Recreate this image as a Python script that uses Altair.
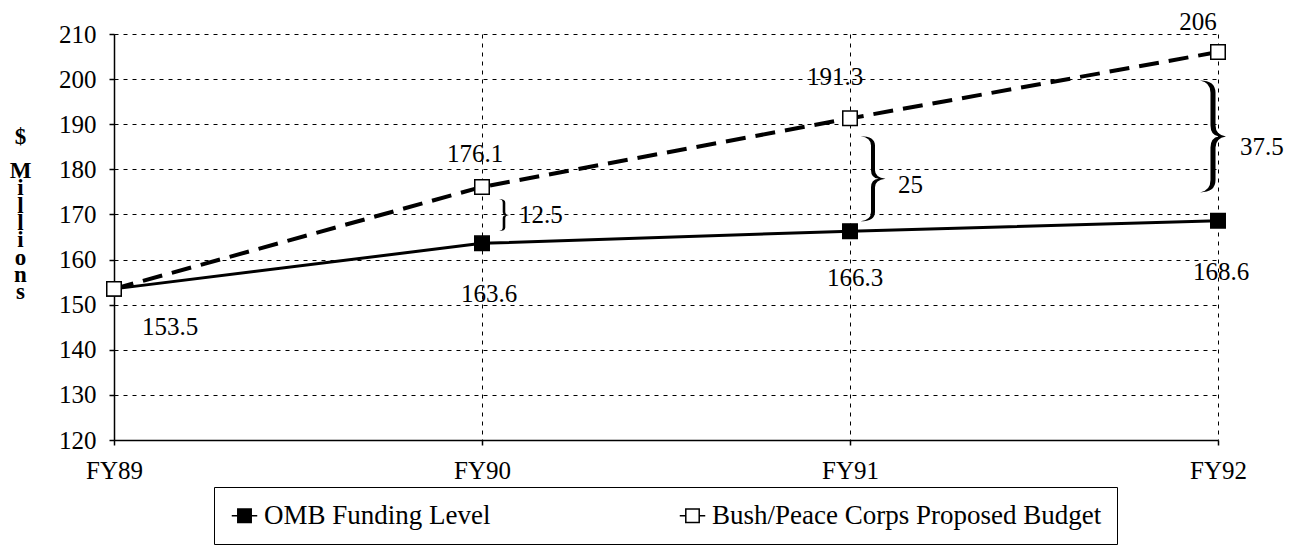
import altair as alt
import pandas as pd

# ---------------- data ----------------
YEARS = ["FY89", "FY90", "FY91", "FY92"]
OMB = [153.5, 163.6, 166.3, 168.6]
BUSH = [153.5, 176.1, 191.3, 206.0]
SERIES = ["OMB Funding Level", "Bush/Peace Corps Proposed Budget"]
Y_TICKS = [120, 130, 140, 150, 160, 170, 180, 190, 200, 210]
GAP_YEARS = ["FY90", "FY91", "FY92"]
GAP_LABELS = ["12.5", "25", "37.5"]
Y_TITLE = ["$", "\u200b", "M", "i", "l", "l", "i", "o", "n", "s"]

# ---------------- styling / layout (not data) ----------------
FONT = "Liberation Serif"
FS = 25
OMB_LABEL_OFFSETS = [(56, 38), (7, 51), (5, 47), (3, 51)]
BUSH_LABEL_OFFSETS = [None, (-7, -33), (-15, -41), (-20, -30)]
# brace: x offset, y offset, height px, width px, stroke px, label dx, label dy
BRACE_STYLE = [
    (22, 0, 32, 10, 2.6, 37, 0),
    (23, 4, 85, 25, 4.0, 48, 10),
    (-5, 0, 112, 26, 5.0, 22, 11),
]
LINE_STYLE = [dict(strokeWidth=3), dict(strokeWidth=4, strokeDash=[20, 10])]
LEGEND_SYMBOL = "M-1,-1H1V1H-1Z M-1.9,0H-1 M1,0H1.9"


def brace_path(h, w, thick):
    """Right-pointing curly brace as a unit-square SVG path."""
    hw = round(w / h, 3)          # half width in unit coords (unit = h/2)
    t = round(thick / h, 3)       # half thickness in unit coords
    m = round(hw * 0.45, 3)
    return (
        f"M{-hw},-1 Q{t},-1 {t},-0.78 L{t},-0.2 Q{t},-0.03 {hw},0 "
        f"Q{t},0.03 {t},0.2 L{t},0.78 Q{t},1 {-hw},1 "
        f"Q{-t},0.97 {-t},0.78 L{-t},0.2 Q{-t},0.02 {m},0 "
        f"Q{-t},-0.02 {-t},-0.2 L{-t},-0.78 Q{-t},-0.97 {-hw},-1 Z"
    )


df = pd.DataFrame({
    "year": YEARS + YEARS,
    "value": OMB + BUSH,
    "series": [SERIES[0]] * len(YEARS) + [SERIES[1]] * len(YEARS),
})

x_enc = alt.X(
    "year:N",
    sort=YEARS,
    scale=alt.Scale(type="point", domain=YEARS, padding=0),
    axis=alt.Axis(
        title=None, labelAngle=0, labelFont=FONT, labelFontSize=FS,
        labelColor="black", labelPadding=13, tickSize=5, tickColor="black",
        tickWidth=1.5, domainColor="black", domainWidth=1.5,
        grid=True, gridColor="black", gridDash=[4, 5], gridWidth=1,
    ),
)
y_enc = alt.Y(
    "value:Q",
    scale=alt.Scale(domain=[120, 210], nice=False, zero=False),
    axis=alt.Axis(
        values=Y_TICKS,
        title=Y_TITLE,
        titleAngle=0, titleFont=FONT, titleFontSize=23, titleFontWeight="bold",
        titleColor="black", titleLineHeight=17.3, titleAlign="center",
        titleBaseline="middle", titleX=-94, titleY=102,
        labelFont=FONT, labelFontSize=FS, labelColor="black", labelPadding=13,
        tickSize=5, tickColor="black", tickWidth=1.5,
        domainColor="black", domainWidth=1.5,
        grid=True, gridColor="black", gridDash=[4, 5], gridWidth=1,
    ),
)

base = alt.Chart(df)

layers = []
for s, style in zip(SERIES, LINE_STYLE):
    enc_x = x_enc if not layers else alt.X("year:N", sort=YEARS)
    enc_y = y_enc if not layers else alt.Y("value:Q")
    layers.append(
        base.transform_filter(alt.datum.series == s)
        .mark_line(color="black", **style)
        .encode(x=enc_x, y=enc_y)
    )

points = base.mark_point(
    shape="square", filled=True, size=210, stroke="black", strokeWidth=1.5,
    opacity=1,
).encode(
    x=alt.X("year:N", sort=YEARS),
    y="value:Q",
    color=alt.Color(
        "series:N",
        scale=alt.Scale(domain=SERIES, range=["black", "white"]),
        legend=alt.Legend(
            title=None, orient="none", legendX=100, legendY=453,
            direction="horizontal", padding=15, strokeColor="black",
            symbolType=LEGEND_SYMBOL, symbolSize=180,
            symbolStrokeColor="black", symbolStrokeWidth=1.5,
            symbolOffset=2, labelOffset=6, columnPadding=185,
            labelFont=FONT, labelFontSize=27, labelColor="black",
            labelLimit=600,
        ),
    ),
)
layers.append(points)

# value labels
for i, yr in enumerate(YEARS):
    for vals, offs in ((OMB, OMB_LABEL_OFFSETS), (BUSH, BUSH_LABEL_OFFSETS)):
        if offs[i] is None:
            continue
        dx, dy = offs[i]
        d = pd.DataFrame({"year": [yr], "value": [vals[i]],
                          "label": [f"{vals[i]:g}"]})
        layers.append(
            alt.Chart(d).mark_text(
                font=FONT, fontSize=FS, color="black", dx=dx, dy=dy,
                baseline="middle", align="center",
            ).encode(x=alt.X("year:N", sort=YEARS), y="value:Q", text="label:N")
        )

# braces showing the gap between the two series
for j, yr in enumerate(GAP_YEARS):
    k = YEARS.index(yr)
    mid = (OMB[k] + BUSH[k]) / 2
    bx, by, bh, bw, bt, tdx, tdy = BRACE_STYLE[j]
    d = pd.DataFrame({"year": [yr], "value": [mid], "label": [GAP_LABELS[j]]})
    layers.append(
        alt.Chart(d).mark_point(
            shape=brace_path(bh, bw, bt), filled=True, color="black",
            opacity=1, size=bh * bh, xOffset=bx, yOffset=by, strokeWidth=0,
        ).encode(x=alt.X("year:N", sort=YEARS), y="value:Q")
    )
    layers.append(
        alt.Chart(d).mark_text(
            font=FONT, fontSize=FS, color="black", dx=tdx, dy=tdy,
            align="left", baseline="middle",
        ).encode(x=alt.X("year:N", sort=YEARS), y="value:Q", text="label:N")
    )

chart = alt.layer(*layers).properties(
    width=1104,
    height=406,
    autosize=alt.AutoSizeParams(type="none"),
    padding={"left": 106, "top": 26, "right": 68, "bottom": 107},
    background="white",
).configure_view(stroke=None)

chart.save("out.html", embed_options={"renderer": "svg", "actions": False})
